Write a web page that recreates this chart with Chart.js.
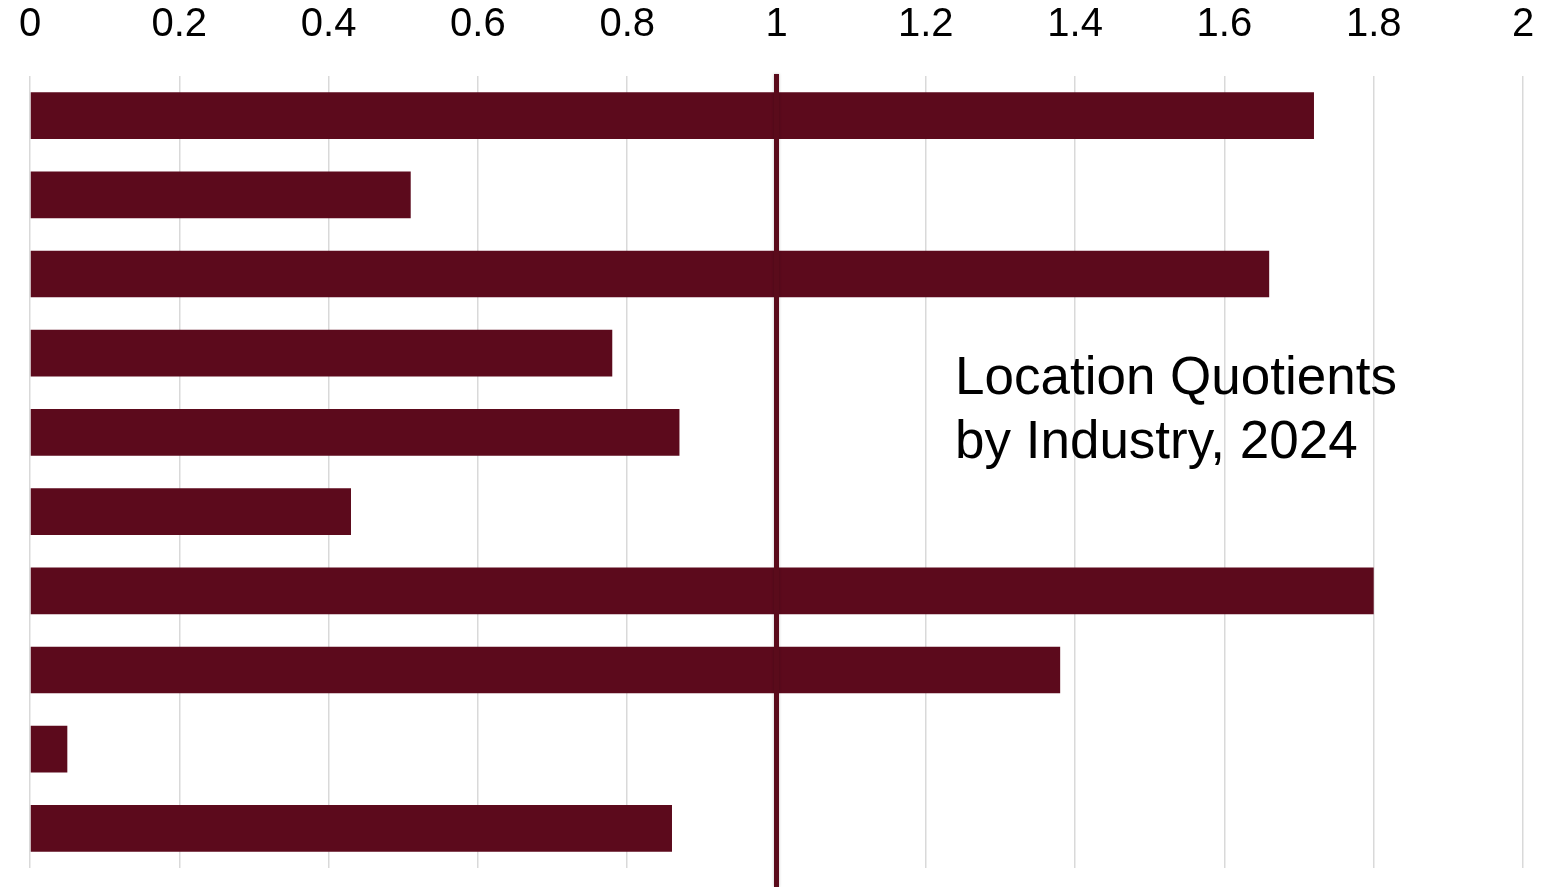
<!DOCTYPE html>
<html>
<head>
<meta charset="utf-8">
<script src="https://cdn.jsdelivr.net/npm/chart.js@4/dist/chart.umd.min.js"></script>
<style>
    html, body { margin: 0; padding: 0; background: #ffffff; }
    #wrap { width: 1563px; height: 887px; position: relative; }
</style>
</head>
<body>
<div id="wrap"><canvas id="lq-chart"></canvas></div>
<script>
// Industries (no labels are shown on the chart itself)
const industries = ['Industry 1', 'Industry 2', 'Industry 3', 'Industry 4', 'Industry 5',
                    'Industry 6', 'Industry 7', 'Industry 8', 'Industry 9', 'Industry 10'];
const locationQuotients = [1.72, 0.51, 1.66, 0.78, 0.87, 0.43, 1.80, 1.38, 0.05, 0.86];
const xTicks = [0, 0.2, 0.4, 0.6, 0.8, 1, 1.2, 1.4, 1.6, 1.8, 2];
const referenceValue = 1;
const titleLines = ['Location Quotients', 'by Industry, 2024'];

const barColor = '#5c0a1c';

// Vertical line at LQ = 1 plus the title text inside the plot
const referenceLine = {
    id: 'referenceLine',
    afterDatasetsDraw(chart) {
        const ctx = chart.ctx;
        const x = chart.scales.x.getPixelForValue(referenceValue);
        ctx.save();
        ctx.shadowColor = 'rgba(0, 0, 0, 0.25)';
        ctx.shadowBlur = 3;
        ctx.strokeStyle = '#5a0b1b';
        ctx.lineWidth = 5;
        ctx.beginPath();
        ctx.moveTo(x, chart.chartArea.top - 2);
        ctx.lineTo(x, chart.height);
        ctx.stroke();
        ctx.restore();

        ctx.save();
        ctx.fillStyle = '#000000';
        ctx.font = '53px "Liberation Sans", Arial, sans-serif';
        ctx.textBaseline = 'alphabetic';
        ctx.textAlign = 'left';
        ctx.fillText(titleLines[0], 955, 394);
        ctx.fillText(titleLines[1], 955, 458);
        ctx.restore();
    }
};

new Chart(document.getElementById('lq-chart').getContext('2d'), {
    type: 'bar',
    data: {
        labels: industries,
        datasets: [{
            label: 'Location Quotient',
            data: locationQuotients,
            backgroundColor: barColor,
            borderWidth: 0,
            categoryPercentage: 1,
            barPercentage: 0.59,
        }],
    },
    options: {
        indexAxis: 'y',
        responsive: true,
        maintainAspectRatio: false,
        animation: false,
        layout: {
            padding: { left: 30, right: 40, top: -26, bottom: 19 },
        },
        plugins: {
            legend: { display: false },
            tooltip: { enabled: false },
        },
        scales: {
            x: {
                position: 'top',
                min: 0,
                max: 2,
                afterBuildTicks: (axis) => {
                    axis.ticks = xTicks.map(v => ({ value: v }));
                },
                afterFit: (axis) => {
                    axis.paddingLeft = 0;
                    axis.paddingRight = 0;
                },
                ticks: {
                    color: '#000000',
                    padding: 27,
                    font: { family: '"Liberation Sans", Arial, sans-serif', size: 40 },
                    callback: (value) => String(Math.round(value * 10) / 10),
                },
                grid: {
                    color: '#d9d9d9',
                    lineWidth: 1.5,
                    drawTicks: false,
                },
                border: { display: false },
            },
            y: {
                display: false,
            },
        },
    },
    plugins: [referenceLine],
});
</script>
</body>
</html>
